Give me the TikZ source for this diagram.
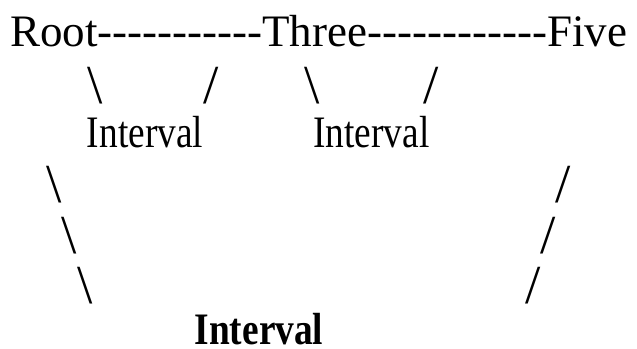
\documentclass[tikz,border=0pt]{standalone}
\usepackage{fontspec}
\setmainfont{Liberation Serif}[Ligatures=TeXOff]
\tikzset{
  txt/.style={inner sep=0pt, outer sep=0pt, font=\fontsize{45}{50}\selectfont},
  slash/.style={inner sep=0pt, outer sep=0pt, font=\fontsize{55}{60}\selectfont},
}
\newcommand{\narrow}[1]{\scalebox{0.83}[1]{#1}}
\begin{document}
\begin{tikzpicture}[x=1pt,y=-1pt]
\useasboundingbox (0,0) rectangle (637,348);
% top row
\node[txt, anchor=base west] (root) at (10,46) {Root};
\node[txt, anchor=base west] (d1) at (root.base east) {-{}-{}-{}-{}-{}-{}-{}-{}-{}-{}-};
\node[txt, anchor=base west] (three) at (d1.base east) {Three};
\node[txt, anchor=base west] (d2) at (three.base east) {-{}-{}-{}-{}-{}-{}-{}-{}-{}-{}-{}-};
\node[txt, anchor=base west] (five) at (d2.base east) {Five};
% second row slashes
\node[slash] (s1) at (95,86) {\textbackslash};
\node[slash] (s2) at (211.5,86) {/};
\node[slash] (s3) at (312.5,86) {\textbackslash};
\node[slash] (s4) at (431.5,86) {/};
% middle Intervals
\node[txt, anchor=base] (i1) at (145,147) {\narrow{Interval}};
\node[txt, anchor=base] (i2) at (371.5,147) {\narrow{Interval}};
% long slashes
\node[slash] (l1) at (54,185) {\textbackslash};
\node[slash] (l2) at (69,236) {\textbackslash};
\node[slash] (l3) at (85,286) {\textbackslash};
\node[slash] (r1) at (563,185) {/};
\node[slash] (r2) at (548,236) {/};
\node[slash] (r3) at (533,286) {/};
% bottom
\node[txt, anchor=base] (bot) at (259,344) {\narrow{\bfseries Interval}};
\end{tikzpicture}
\end{document}
